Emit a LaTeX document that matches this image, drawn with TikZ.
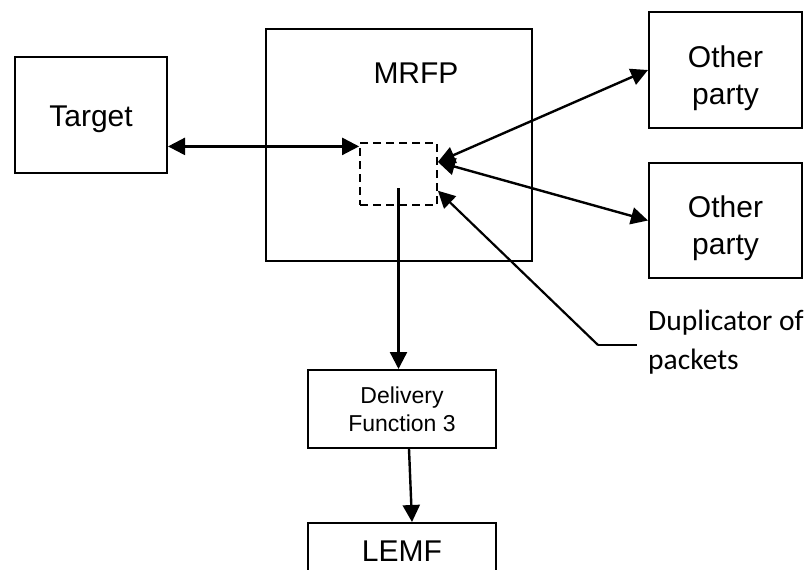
\documentclass[tikz,border=0pt]{standalone}
\usepackage{fontspec}
\setmainfont{Liberation Sans}
\newfontfamily\calibri{Carlito}
\usetikzlibrary{arrows.meta}

\tikzset{
  box/.style={draw, line width=2pt, inner sep=0pt, align=center},
  link/.style={line width=2.4pt, >={Triangle[length=17pt,width=17pt]}},
}

\begin{document}
\begin{tikzpicture}[x=1pt, y=-1pt, every node/.style={font=\fontsize{30}{37}\selectfont}]

\useasboundingbox (0,0) rectangle (806,570);
\clip (0,0) rectangle (806,570);

%% ── Boxes ────────────────────────────────────────────────────────────────────
\node[box, minimum width=152, minimum height=116] (target) at (91,115) {};
\node (targetlabel) at ([yshift=-4]target.center) {Target};

\node[box, minimum width=266, minimum height=232] (mrfp) at (399,145) {};
\node (mrfplabel) at (416,73) {MRFP};

%% duplicator inside the MRFP
\node[box, line width=1.8pt, dash pattern=on 8pt off 5pt,
      minimum width=77, minimum height=62] (dup) at (398.5,174) {};

\node[box, minimum width=153, minimum height=116] (party1) at (725.5,70) {};
\node[align=center] (party1label) at ([yshift=-8]party1.center) {Other\\party};
\node[box, minimum width=153, minimum height=115] (party2) at (725.5,220.5) {};
\node[align=center] (party2label) at ([yshift=-8]party2.center) {Other\\party};

\node[box, font=\fontsize{23}{28}\selectfont,
      minimum width=188, minimum height=78] (df3) at (402,409)
  {Delivery\\Function 3};
\node[box, minimum width=188, minimum height=56] (lemf) at (402,551) {LEMF};

%% ── Connectors ───────────────────────────────────────────────────────────────
\draw[link, <->] (target.east |- dup.145) -- (dup.145);
\draw[link, <->] (dup.17) -- (party1.west);
\draw[link, <->] (dup.17) -- (party2.west);

\draw[link, ->] ([yshift=-14]dup.center) -- (dup.center |- df3.north);
\draw[link, ->] ([xshift=7]df3.south) -- ([xshift=10]lemf.north);

%% ── Callout ──────────────────────────────────────────────────────────────────
\coordinate (bend) at (598,345);
\coordinate (tail) at (637,345);
\draw[link, line width=2.2pt, ->] (bend) -- (dup.-23);
\draw[line width=2pt] (bend) -- (tail);
\node[font=\calibri\fontsize{29.5}{39}\selectfont, align=left,
      anchor=north west, inner sep=0pt] (duptext) at (648,310)
  {Duplicator of\\packets};

\end{tikzpicture}
\end{document}
